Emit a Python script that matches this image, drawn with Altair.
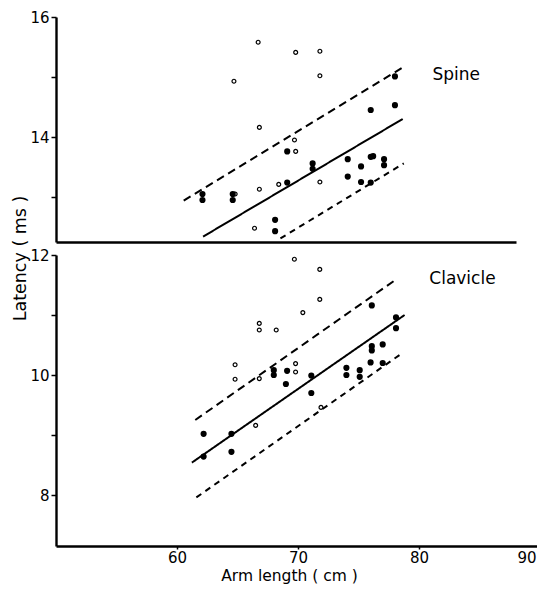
import altair as alt
import pandas as pd

# ---------------- Spine panel data ----------------
spine_open_x = [66.7, 69.8, 71.8, 64.7, 71.8, 66.8, 69.7, 69.8, 64.8, 66.8, 68.4, 71.8, 66.4]
spine_open_y = [15.58, 15.41, 15.43, 14.93, 15.02, 14.16, 13.95, 13.76, 13.05, 13.13, 13.21, 13.25, 12.48]
spine_filled_x = [62.1, 62.1, 64.6, 64.6, 69.1, 69.1, 71.2, 71.2, 68.1, 68.1, 74.1, 74.1,
                  75.2, 75.2, 76.0, 76.2, 76.0, 77.1, 77.1, 76.0, 78.0, 78.0]
spine_filled_y = [13.05, 12.95, 13.05, 12.95, 13.76, 13.24, 13.56, 13.47, 12.62, 12.43, 13.63, 13.34,
                  13.51, 13.25, 13.67, 13.68, 13.24, 13.63, 13.53, 14.45, 14.53, 15.01]
spine_fit_x = [62.15, 78.64]
spine_fit_y = [12.34, 14.30]
spine_upper_x = [60.55, 78.73]
spine_upper_y = [12.94, 15.17]
spine_lower_x = [68.54, 78.73]
spine_lower_y = [12.31, 13.56]

# ---------------- Clavicle panel data ----------------
clav_open_x = [69.7, 71.8, 71.8, 70.4, 66.8, 66.8, 68.2, 64.8, 64.8, 66.8, 69.8, 69.8, 66.5, 71.9]
clav_open_y = [11.93, 11.76, 11.26, 11.04, 10.86, 10.75, 10.75, 10.17, 9.93, 9.94, 10.19, 10.05, 9.16, 9.46]
clav_filled_x = [62.2, 62.2, 64.5, 64.5, 68.0, 68.0, 69.1, 69.0, 71.1, 71.1, 74.0, 74.0,
                 75.1, 75.1, 76.1, 78.1, 78.1, 76.1, 76.1, 77.0, 76.0, 77.0]
clav_filled_y = [9.02, 8.64, 9.02, 8.72, 10.08, 10.00, 10.07, 9.85, 9.99, 9.70, 10.12, 10.00,
                 10.08, 9.97, 11.16, 10.96, 10.78, 10.48, 10.41, 10.51, 10.21, 10.20]
clav_fit_x = [61.23, 78.81]
clav_fit_y = [8.54, 11.00]
clav_upper_x = [61.51, 78.23]
clav_upper_y = [9.25, 11.61]
clav_lower_x = [61.60, 78.51]
clav_lower_y = [7.96, 10.35]

x_ticks = [60, 70, 80, 90]
spine_y_ticks = [13, 14, 15, 16]
clav_y_ticks = [8, 9, 10, 11, 12]

FONT = "DejaVu Sans"


def lines_df(fit_x, fit_y, up_x, up_y, lo_x, lo_y):
    rows = []
    for name, xs, ys in (("fit", fit_x, fit_y), ("upper", up_x, up_y), ("lower", lo_x, lo_y)):
        for xv, yv in zip(xs, ys):
            rows.append({"line": name, "x": xv, "y": yv})
    return pd.DataFrame(rows)


def panel(open_x, open_y, fill_x, fill_y, ldf, label, lab_pos, xdom, ydom, w, h,
          yticks, bottom):
    if bottom:
        xaxis = alt.Axis(values=x_ticks, title="Arm length ( cm )", tickSize=3,
                         labelPadding=1, titlePadding=3, titleX=233, grid=False,
                         labelFlush=True, labelFlushOffset=-4, titleFontSize=15.5)
        yaxis = alt.Axis(values=yticks, title="Latency ( ms )", grid=False, tickSize=5,
                         labelPadding=2, titlePadding=0, titleY=3,
                         labelExpr="datum.value % 2 == 0 ? datum.label : ''")
    else:
        xaxis = alt.Axis(ticks=False, labels=False, title=None, grid=False)
        yaxis = alt.Axis(values=yticks, title=None, grid=False, tickSize=5, labelPadding=2,
                         labelExpr="datum.value % 2 == 0 ? datum.label : ''")
    X = alt.X("x:Q", scale=alt.Scale(domain=xdom, nice=False, zero=False), axis=xaxis)
    Y = alt.Y("y:Q", scale=alt.Scale(domain=ydom, nice=False, zero=False), axis=yaxis)

    lines = alt.Chart(ldf).mark_line(color="black", strokeWidth=2).encode(
        x=X, y=Y, detail="line:N",
        strokeDash=alt.StrokeDash("line:N", legend=None,
                                  scale=alt.Scale(domain=["fit", "upper", "lower"],
                                                  range=[[1, 0], [8, 5], [6, 5]])),
    )
    opn = alt.Chart(pd.DataFrame({"x": open_x, "y": open_y})).mark_point(
        shape="circle", filled=False, color="black", size=15, strokeWidth=1.2, opacity=1
    ).encode(x=X, y=Y)
    fil = alt.Chart(pd.DataFrame({"x": fill_x, "y": fill_y})).mark_point(
        shape="circle", filled=True, color="black", size=38, opacity=1
    ).encode(x=X, y=Y)
    txt = alt.Chart(pd.DataFrame({"x": [lab_pos[0]], "y": [lab_pos[1]], "t": [label]})).mark_text(
        align="left", baseline="middle", font=FONT, fontSize=17, color="black"
    ).encode(x=X, y=Y, text="t:N")
    return alt.layer(lines, opn, fil, txt).properties(width=w, height=h)


top = panel(spine_open_x, spine_open_y, spine_filled_x, spine_filled_y,
            lines_df(spine_fit_x, spine_fit_y, spine_upper_x, spine_upper_y, spine_lower_x, spine_lower_y),
            "Spine", (81.1, 15.03), [50, 88], [12.25, 16], 460, 225, spine_y_ticks, False)
bot = panel(clav_open_x, clav_open_y, clav_filled_x, clav_filled_y,
            lines_df(clav_fit_x, clav_fit_y, clav_upper_x, clav_upper_y, clav_lower_x, clav_lower_y),
            "Clavicle", (80.85, 11.6), [50, 90], [7.15, 12], 484, 291, clav_y_ticks, True)

# fixed canvas (529 x 576) so the page never overflows the window
chart = alt.vconcat(top, bot, spacing=13, bounds="flush").properties(
    autosize=alt.AutoSizeParams(type="none"),
    padding={"left": 48, "top": 9, "right": 481, "bottom": 567},
).configure_view(stroke=None).configure_axis(
    domainColor="black", domainWidth=2.4, tickColor="black", tickWidth=1.5,
    labelFont=FONT, labelFontSize=15, labelColor="black",
    titleFont=FONT, titleFontSize=17.5, titleFontWeight="normal", titleColor="black",
)

chart.save("out.html", embed_options={"renderer": "svg", "actions": False})
